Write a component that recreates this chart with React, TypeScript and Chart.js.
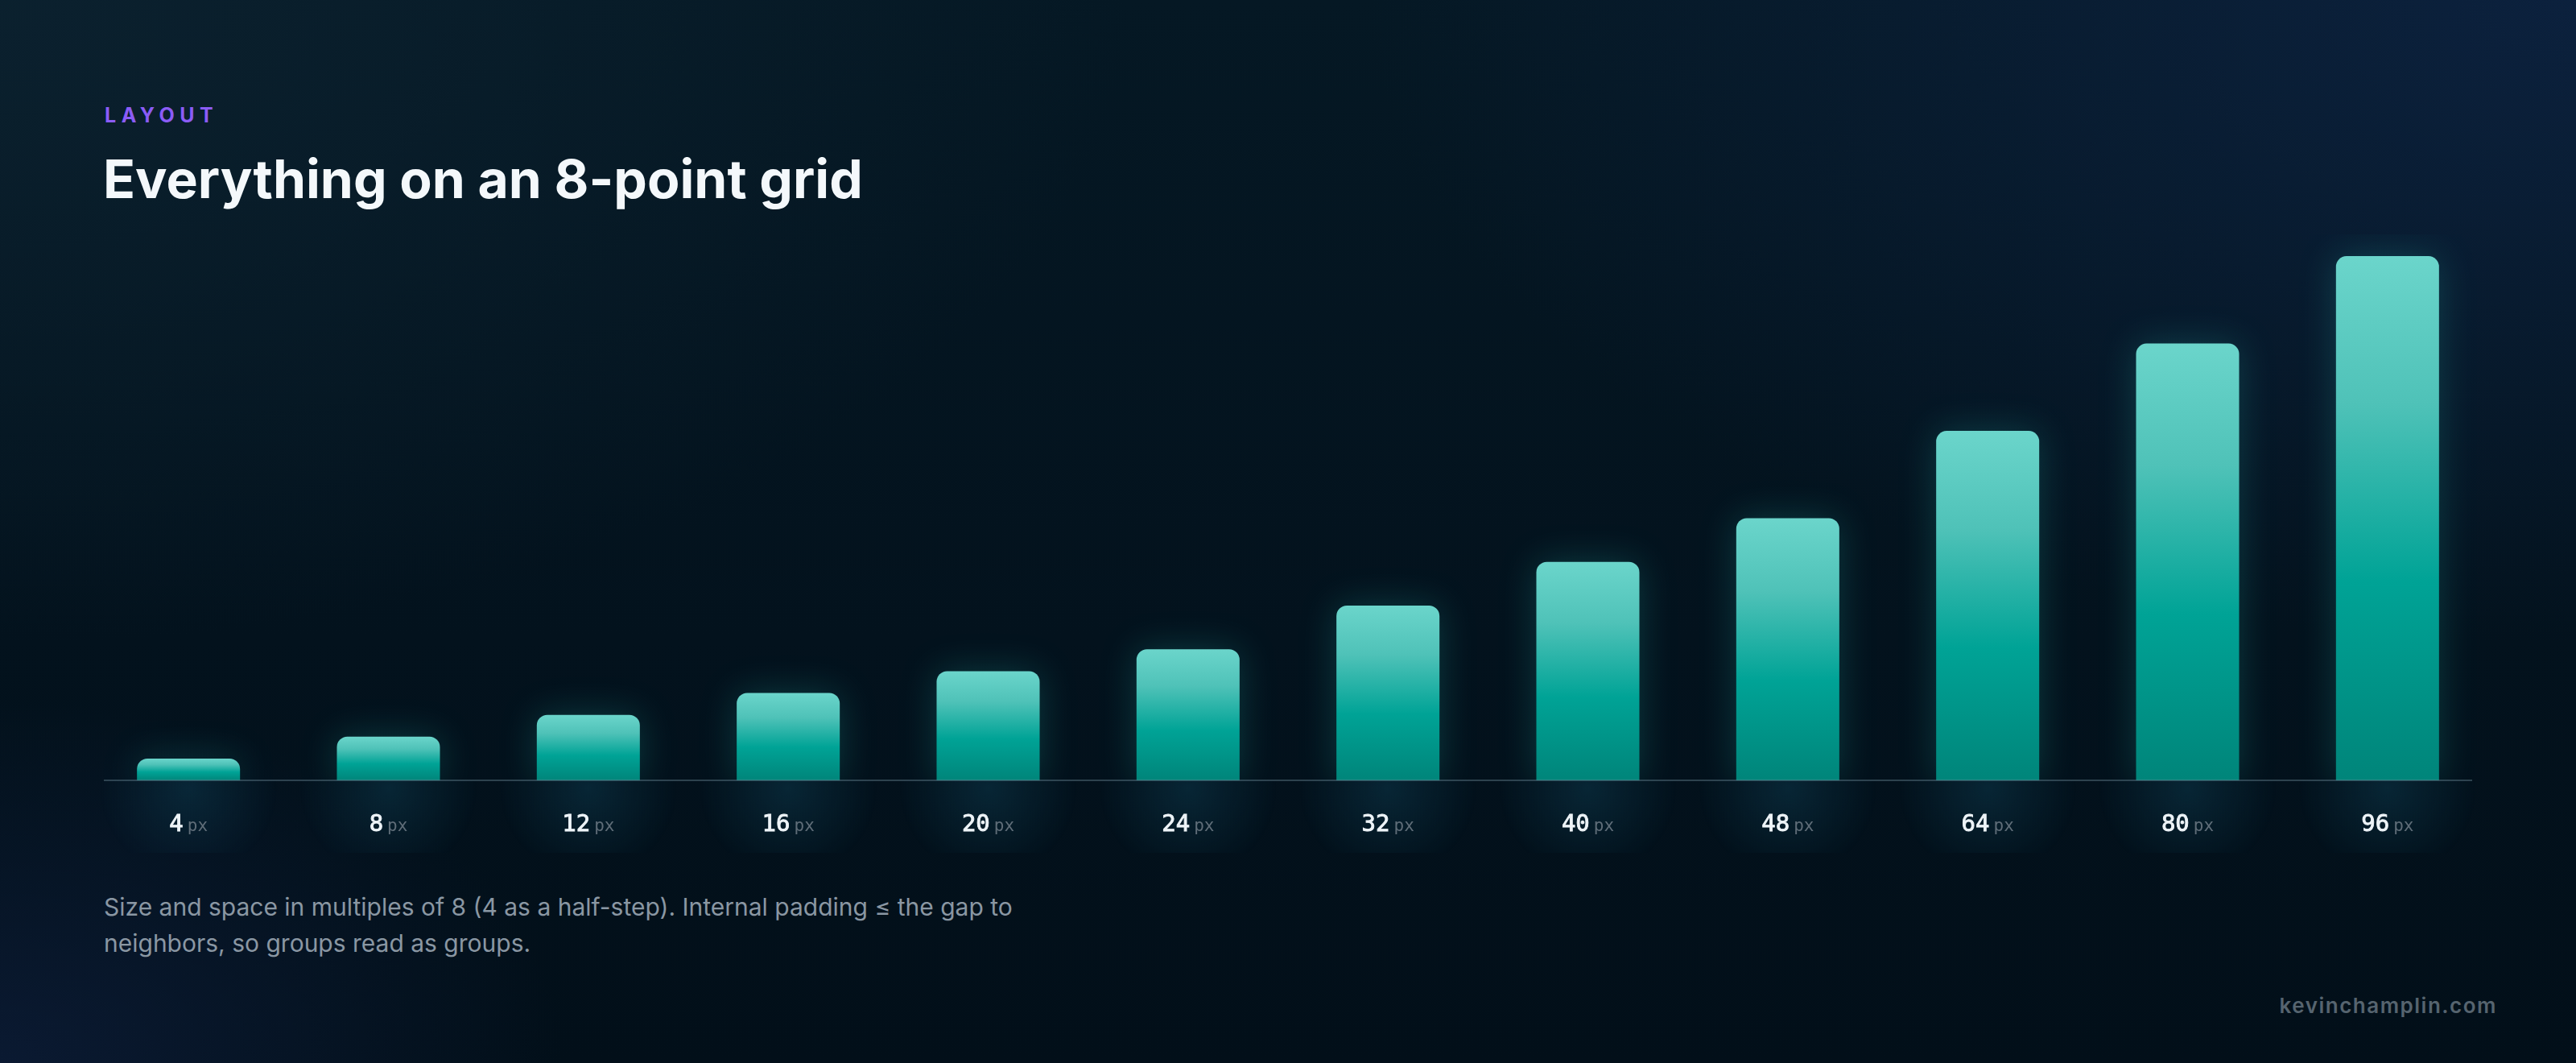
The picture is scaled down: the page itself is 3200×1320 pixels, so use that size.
import { useEffect, useRef } from 'react'
import { Chart, registerables } from 'chart.js'

Chart.register(...registerables)

// spacing scale, in px
const categories = ['4', '8', '12', '16', '20', '24', '32', '40', '48', '64', '80', '96']
const values = [4, 8, 12, 16, 20, 24, 32, 40, 48, 64, 80, 96]
const unit = 'px'
const yMax = 100

const PAD_X = 50
const PAD_TOP = 40
const PAD_BOTTOM = 90

const barGradient = (c: any) => {
  const chart = c.chart
  const y = chart.scales?.y
  if (!chart.chartArea || !y || c.raw == null) return '#00a396'
  const top = y.getPixelForValue(c.raw)
  const base = y.getPixelForValue(0)
  const g = chart.ctx.createLinearGradient(0, top, 0, base)
  g.addColorStop(0, '#6bd5cb')
  g.addColorStop(0.28, '#4fc2b8')
  g.addColorStop(0.62, '#00a396')
  g.addColorStop(1, '#00857a')
  return g
}

const decor = {
  id: 'decor',
  beforeDatasetsDraw(chart: any) {
    const { ctx, scales } = chart
    const base = scales.y.getPixelForValue(0)
    const meta = chart.getDatasetMeta(0)
    // soft glow under the baseline
    ctx.save()
    meta.data.forEach((bar: any) => {
      const g = ctx.createRadialGradient(bar.x, base + 10, 0, bar.x, base + 10, 110)
      g.addColorStop(0, 'rgba(16, 70, 92, 0.4)')
      g.addColorStop(1, 'rgba(16, 70, 92, 0)')
      ctx.fillStyle = g
      ctx.fillRect(bar.x - 120, base, 240, 110)
    })
    ctx.restore()
    ctx.save()
    ctx.shadowColor = 'rgba(40, 190, 180, 0.24)'
    ctx.shadowBlur = 45
  },
  afterDatasetsDraw(chart: any) {
    const { ctx, chartArea, scales } = chart
    ctx.restore()
    const base = scales.y.getPixelForValue(0)
    ctx.save()
    ctx.strokeStyle = 'rgba(110, 140, 155, 0.4)'
    ctx.lineWidth = 2
    ctx.beginPath()
    ctx.moveTo(chartArea.left + 19, base)
    ctx.lineTo(chartArea.right - 19, base)
    ctx.stroke()

    // tick labels: number + unit
    const numFont = '29px "DejaVu Sans Mono", monospace'
    const unitFont = '21px "DejaVu Sans Mono", monospace'
    const gap = 5
    ctx.textBaseline = 'alphabetic'
    ctx.textAlign = 'left'
    categories.forEach((label, i) => {
      const x = scales.x.getPixelForValue(i)
      ctx.font = numFont
      const wn = ctx.measureText(label).width
      ctx.font = unitFont
      const wu = ctx.measureText(unit).width
      const start = x - (wn + gap + wu) / 2
      ctx.font = numFont
      ctx.fillStyle = '#eef4f8'
      ctx.strokeStyle = '#eef4f8'
      ctx.lineWidth = 0.9
      ctx.fillText(label, start, base + 63)
      ctx.strokeText(label, start, base + 63)
      ctx.font = unitFont
      ctx.fillStyle = '#5f6d78'
      ctx.fillText(unit, start + wn + gap, base + 63)
    })
    ctx.restore()
  },
}

function SpacingChart() {
  const canvasRef = useRef<HTMLCanvasElement>(null)
  const chartRef = useRef<Chart | null>(null)

  useEffect(() => {
    const canvas = canvasRef.current
    if (!canvas) return
    if (chartRef.current) {
      chartRef.current.destroy()
      chartRef.current = null
    }
    chartRef.current = new Chart(canvas, {
      type: 'bar',
      data: {
        labels: categories,
        datasets: [{
          data: values,
          backgroundColor: barGradient,
          borderWidth: 0,
          borderRadius: { topLeft: 13, topRight: 13, bottomLeft: 0, bottomRight: 0 },
          borderSkipped: 'bottom',
          categoryPercentage: 1,
          barPercentage: 0.5155,
        }],
      },
      options: {
        animation: false,
        responsive: true,
        maintainAspectRatio: false,
        layout: { padding: { left: PAD_X, right: PAD_X, top: PAD_TOP, bottom: PAD_BOTTOM } },
        plugins: { legend: { display: false }, tooltip: { enabled: false } },
        scales: {
          x: { display: false, offset: true },
          y: { display: false, min: 0, max: yMax },
        },
      },
      plugins: [decor],
    })
    return () => {
      if (chartRef.current) {
        chartRef.current.destroy()
        chartRef.current = null
      }
    }
  }, [])

  return (
    <div style={{ position: 'absolute', left: 110 - PAD_X, top: 291 - PAD_TOP, width: 2980 + PAD_X * 2, height: 678 + PAD_TOP + PAD_BOTTOM }}>
      <canvas ref={canvasRef} />
    </div>
  )
}

export default function App() {
  const sans = 'Inter, "Noto Sans", sans-serif'
  return (
    <div
      style={{
        position: 'absolute', left: 0, top: 0, width: 3200, height: 1320, overflow: 'hidden',
        fontFamily: sans,
        background:
          'radial-gradient(ellipse 1500px 800px at 100% 0%, rgba(14, 36, 70, 0.75), rgba(14, 36, 70, 0) 100%),' +
          'radial-gradient(ellipse 700px 450px at 0% 100%, rgba(14, 30, 60, 0.7), rgba(14, 30, 60, 0) 100%),' +
          'radial-gradient(ellipse 1400px 800px at 0% 0%, rgba(12, 34, 48, 0.85), rgba(12, 34, 48, 0) 100%),' +
          'linear-gradient(180deg, #051824 0%, #03121d 60%, #020f19 100%)',
      }}
    >
      <div style={{ position: 'absolute', left: 130, top: 131, fontSize: 25, lineHeight: 1, fontWeight: 700, letterSpacing: '6.5px', color: '#8b5cf6' }}>
        LAYOUT
      </div>
      <div style={{ position: 'absolute', left: 128, top: 189, fontSize: 66, lineHeight: 1, fontWeight: 700, letterSpacing: '0px', color: '#f4f8fb', whiteSpace: 'nowrap' }}>
        Everything on an 8-point grid
      </div>
      <SpacingChart />
      <div style={{ position: 'absolute', left: 129, top: 1104, fontSize: 30, lineHeight: '45px', color: '#8a97a3', whiteSpace: 'nowrap' }}>
        Size and space in multiples of 8 (4 as a half-step). Internal padding ≤ the gap to<br />
        neighbors, so groups read as groups.
      </div>
      <div style={{ position: 'absolute', right: 98, top: 1236, fontSize: 26, lineHeight: 1, fontWeight: 600, letterSpacing: '1.5px', color: '#56646f' }}>
        kevinchamplin.com
      </div>
    </div>
  )
}
